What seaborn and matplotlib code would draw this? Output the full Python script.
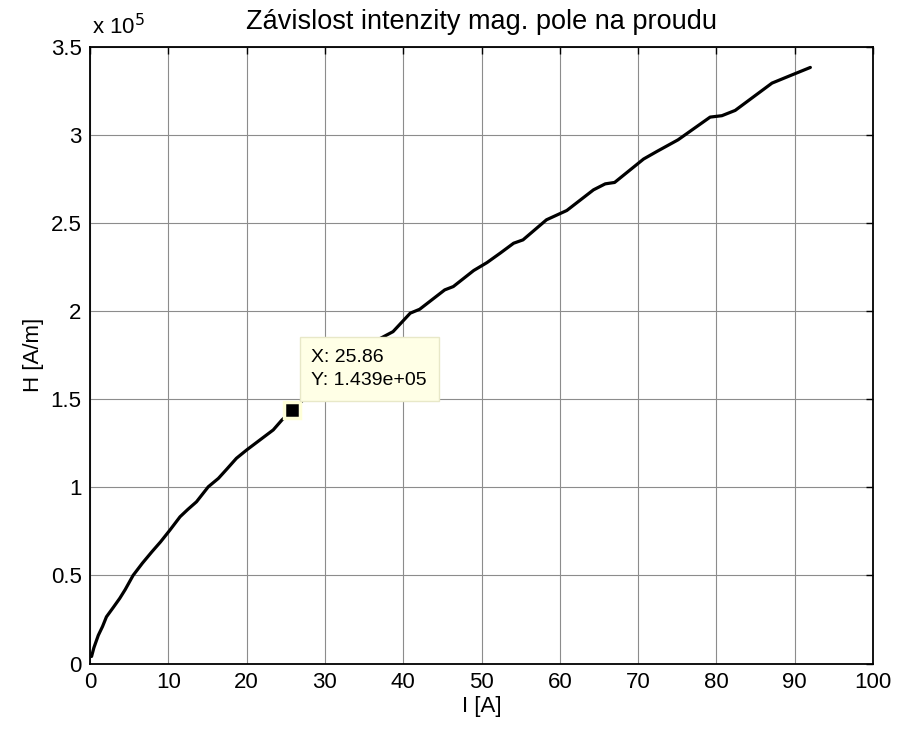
import matplotlib
matplotlib.use("Agg")
import matplotlib.pyplot as plt
import seaborn as sns
import numpy as np
import pandas as pd
from matplotlib.ticker import FuncFormatter, MultipleLocator

# Data (I [A], H [A/m])
current = [0.2, 0.5, 1.06, 1.6, 2.1, 3.0, 3.8, 4.5, 5.5, 6.7, 7.9, 9.0, 10.2, 11.5, 12.5,
           13.6, 15.1, 16.4, 17.5, 18.7, 20.0, 21.7, 23.4, 24.5, 25.86, 28.0, 30.0, 32.0,
           34.0, 36.0, 38.7, 40.9, 42.1, 45.3, 46.4, 49.0, 50.7, 52.4, 54.1, 55.3, 58.3,
           60.9, 64.3, 65.8, 67.0, 70.7, 72.4, 75.1, 79.2, 80.7, 82.4, 87.1, 89.4, 92.0]
intensity = [0.04, 0.09, 0.16, 0.21, 0.265, 0.32, 0.37, 0.42, 0.50, 0.57, 0.634, 0.69,
             0.757, 0.833, 0.875, 0.918, 1.003, 1.051, 1.105, 1.165, 1.212, 1.269, 1.326,
             1.382, 1.439, 1.53, 1.61, 1.69, 1.76, 1.82, 1.884, 1.989, 2.011, 2.121, 2.14,
             2.231, 2.276, 2.33, 2.386, 2.405, 2.519, 2.572, 2.689, 2.723, 2.731, 2.864,
             2.907, 2.973, 3.102, 3.11, 3.14, 3.295, 3.337, 3.384]
intensity = [v * 1e5 for v in intensity]

tip_x = 25.86
tip_y = 1.439e5

df = pd.DataFrame({"I": current, "H": intensity})

sns.set_theme(style="white")
plt.rcParams["font.family"] = ["Liberation Sans", "DejaVu Sans"]
plt.rcParams["text.color"] = "black"
plt.rcParams["axes.labelcolor"] = "black"

fig = plt.figure(figsize=(8.97, 7.31), dpi=100)
ax = fig.add_axes([90 / 897, 1 - 663.5 / 731, (873 - 90) / 897, (663.5 - 47) / 731])

sns.lineplot(data=df, x="I", y="H", ax=ax, color="black", linewidth=2.3, sort=False,
             estimator=None, zorder=3)

ax.set_xlim(0, 100)
ax.set_ylim(0, 3.5e5)
ax.xaxis.set_major_locator(MultipleLocator(10))
ax.yaxis.set_major_locator(MultipleLocator(0.5e5))
ax.yaxis.set_major_formatter(FuncFormatter(lambda v, p: f"{v/1e5:g}"))

ax.grid(True, color="#8c8c8c", linewidth=0.8, linestyle="-", zorder=0)
ax.set_axisbelow(True)
for s in ax.spines.values():
    s.set_color("black")
    s.set_linewidth(1.3)
ax.tick_params(direction="in", length=5, width=1, top=True, right=True,
               labelsize=16, colors="black", pad=6)

ax.set_xlabel("I [A]", fontsize=16, labelpad=2, color="black")
ax.set_ylabel("H [A/m]", fontsize=16, labelpad=5, color="black")
ax.set_title("Závislost intenzity mag. pole na proudu", fontsize=19.5, pad=13, color="black")

ax.text(0.003, 1.012, r"x 10$^{5}$", transform=ax.transAxes, fontsize=16,
        ha="left", va="bottom", color="black")

# data tip marker and box
ax.plot([tip_x], [tip_y], marker="s", markersize=11, color="black",
        markeredgecolor="#ffffd8", markeredgewidth=2.5, zorder=5, linestyle="none")
ax.text(tip_x + 2.4, tip_y + 0.12e5, "X: 25.86\nY: 1.439e+05", fontsize=14,
        ha="left", va="bottom", linespacing=1.45, zorder=6, color="black",
        bbox=dict(boxstyle="square,pad=0.6", facecolor="#ffffe6", edgecolor="#e8e8c8",
                  linewidth=1))

fig.savefig("out.png", dpi=100, facecolor="white")
